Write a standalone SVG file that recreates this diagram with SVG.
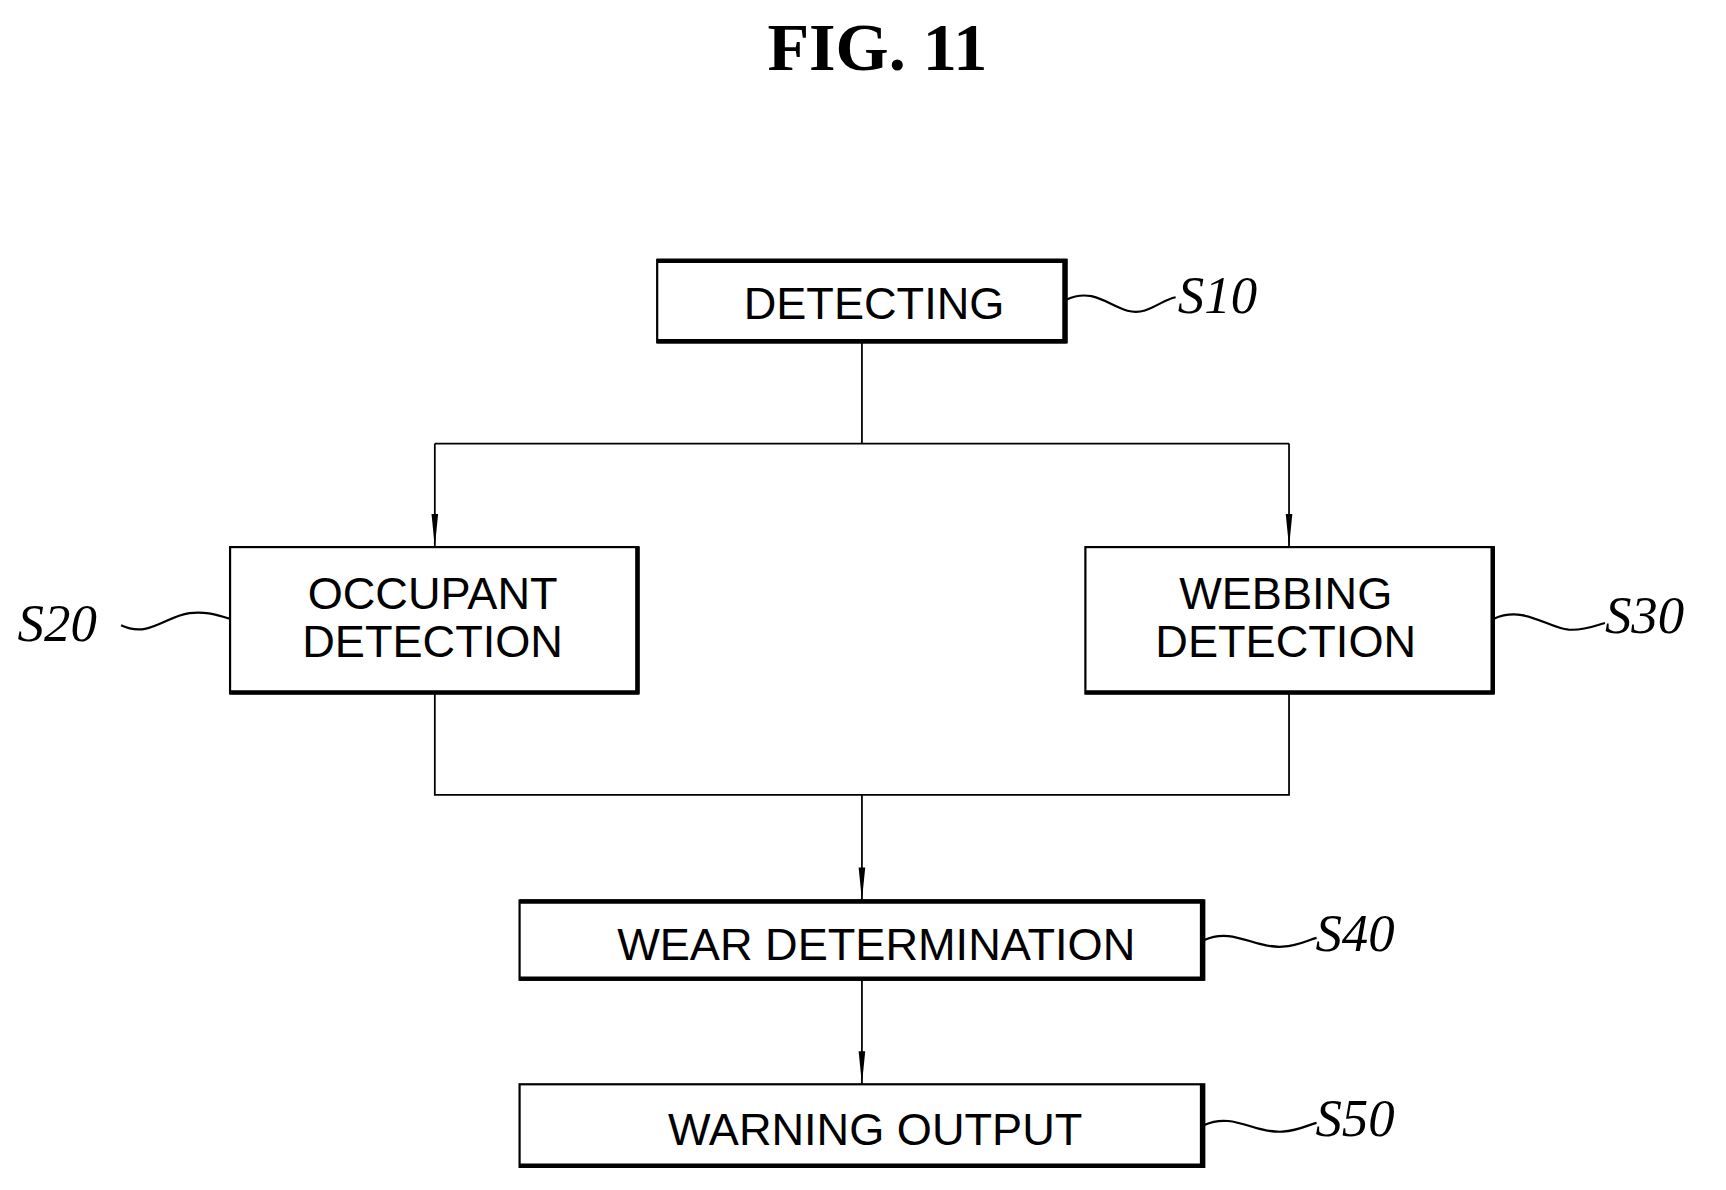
<svg xmlns="http://www.w3.org/2000/svg" width="1726" height="1190" viewBox="0 0 1726 1190">
<style>
.box{fill:#fff;stroke:#000;stroke-width:2}
.sh{stroke:#000;stroke-width:4;fill:none}
.t{font-family:"Liberation Sans",Arial,sans-serif;font-size:41px;text-anchor:middle;fill:#000}
.lbl{font-family:"Liberation Serif","Times New Roman",serif;font-style:italic;font-size:48px;fill:#000}
.sq{stroke:#000;stroke-width:2;fill:none}
.c{stroke:#000;stroke-width:1.6;fill:none}
</style>
<defs>
<marker id="a" markerWidth="30" markerHeight="10" refX="30" refY="5" orient="auto" markerUnits="userSpaceOnUse" viewBox="0 0 30 10">
<path d="M0,2 L0,8 L30,5 Z" fill="#000"/>
</marker>
</defs>
<rect width="1726" height="1190" fill="#fff"/>
<g transform="scale(1.1008)">
<text x="797" y="64" font-family="Liberation Serif,Times New Roman,serif" font-weight="bold" font-size="62" text-anchor="middle">FIG. 11</text>
<g id="connectors">
<path class="c" d="M783,311 V403 M395,403 H1171"/>
<path class="c" d="M395,403 V497" marker-end="url(#a)"/>
<path class="c" d="M1171,403 V497" marker-end="url(#a)"/>
<path class="c" d="M395,630 V722 H1171 V630"/>
<path class="c" d="M783,722 V818" marker-end="url(#a)"/>
<path class="c" d="M783,890 V985" marker-end="url(#a)"/>
</g>
<g id="S10">
<rect class="box" x="597" y="236" width="372" height="75"/>
<path class="sh" d="M597,237 H969 M967,236 V311 M597,310 H969"/>
<text class="t" x="794" y="290">DETECTING</text>
<path class="sq" d="M969,272 C1000,258 1015,290 1040,282 C1052,278 1058,272 1068,270"/>
<text class="lbl" x="1070" y="284">S10</text>
</g>
<g id="S20">
<rect class="box" x="209" y="497" width="371" height="133"/>
<path class="sh" d="M579,497 V630 M209,629 H580"/>
<text class="t" x="393" y="553">OCCUPANT</text>
<text class="t" x="393" y="597">DETECTION</text>
<path class="sq" d="M110,568 C135,580 150,560 172,557 C190,555 200,560 209,562"/>
<text class="lbl" x="16" y="582">S20</text>
</g>
<g id="S30">
<rect class="box" x="986" y="497" width="371" height="133"/>
<path class="sh" d="M1356,497 V630 M986,629 H1357"/>
<text class="t" x="1168" y="553">WEBBING</text>
<text class="t" x="1168" y="597">DETECTION</text>
<path class="sq" d="M1357,562 C1385,550 1405,570 1425,572 C1440,573 1450,568 1458,566"/>
<text class="lbl" x="1458" y="575">S30</text>
</g>
<g id="S40">
<rect class="box" x="472" y="818" width="622" height="72"/>
<path class="sh" d="M472,819 H1094 M1092,818 V890 M472,889 H1094"/>
<text class="t" x="796" y="872">WEAR DETERMINATION</text>
<path class="sq" d="M1094,854 C1120,842 1140,862 1165,860 C1180,859 1188,854 1196,852"/>
<text class="lbl" x="1195" y="864">S40</text>
</g>
<g id="S50">
<rect class="box" x="472" y="985" width="622" height="75"/>
<path class="sh" d="M1092,985 V1060 M472,1059 H1094"/>
<text class="t" x="795" y="1040">WARNING OUTPUT</text>
<path class="sq" d="M1094,1022 C1120,1010 1140,1030 1165,1028 C1180,1027 1188,1022 1196,1020"/>
<text class="lbl" x="1195" y="1032">S50</text>
</g>
</g>
</svg>
